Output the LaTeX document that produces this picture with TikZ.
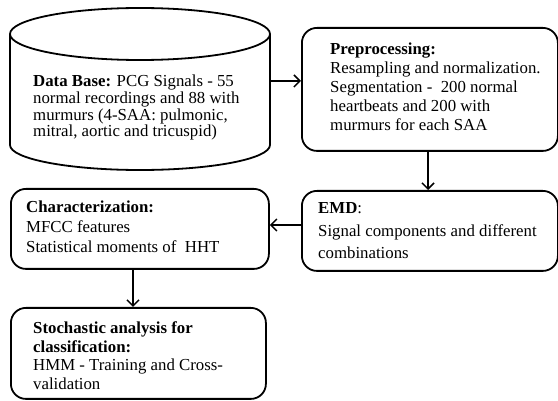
\documentclass[tikz,border=0pt]{standalone}
\usepackage{fontspec}
\setmainfont{Liberation Serif}
\usetikzlibrary{arrows.meta}
\tikzset{
  boxline/.style={line width=1.8pt},
  flowbox/.style={boxline, draw, rounded corners=15pt, inner sep=0pt, anchor=north west},
  txt/.style={align=left, inner sep=0pt, anchor=base west},
  conn/.style={line width=1.5pt, -{Straight Barb[length=6pt,width=12pt,line width=1.5pt]}}
}
\newcommand{\fs}[1]{\fontsize{16.8}{#1}\selectfont}
\begin{document}
\begin{tikzpicture}[x=1pt,y=-1pt]
\useasboundingbox (0,0) rectangle (558,401);
% cylinder
\draw[boxline] (10,34) -- (10,145) arc[start angle=180, end angle=0, x radius=130, y radius=25] -- (270,34);
\draw[boxline] (140,34) ellipse [x radius=130, y radius=26];
\coordinate (dbr) at (270,81);
% last-line baselines
\node[txt, font=\fs{16.7}] (dbtxt) at (33,137) {\textbf{Data Base:} PCG Signals - 55\\normal recordings and 88 with\\murmurs (4-SAA: pulmonic,\\mitral, aortic and tricuspid)};
% boxes
\node[flowbox, minimum width=256pt, minimum height=123pt] (pre) at (301,27) {};
\node[flowbox, minimum width=256pt, minimum height=80pt] (emd) at (301,190) {};
\node[flowbox, minimum width=258pt, minimum height=80pt] (chr) at (10,188) {};
\node[flowbox, minimum width=255pt, minimum height=91pt] (sto) at (10,307) {};
% texts
\node[txt, font=\fs{19}] (pretxt) at (330,131) {\textbf{Preprocessing:}\\Resampling and normalization.\\Segmentation -\ \ 200 normal\\heartbeats and 200 with\\murmurs for each SAA};
\node[txt, font=\fs{22.5}] (emdtxt) at (318,259) {\textbf{EMD}:\\Signal components and different\\combinations};
\node[txt, font=\fs{20}] (chrtxt) at (26,253) {\textbf{Characterization:}\\MFCC features\\Statistical moments of\ \ HHT};
\node[txt, font=\fs{19}] (stotxt) at (33,390) {\textbf{Stochastic analysis for}\\\textbf{classification:}\\HMM - Training and Cross-\\validation};
% connectors
\draw[conn] (dbr) -- (pre.west |- dbr);
\draw[conn] (pre.south -| 428,0) -- (emd.north -| 428,0);
\draw[conn] (emd.west |- 0,225) -- (chr.east |- 0,225);
\draw[conn] (chr.south -| 133,0) -- (sto.north -| 133,0);
\end{tikzpicture}
\end{document}
